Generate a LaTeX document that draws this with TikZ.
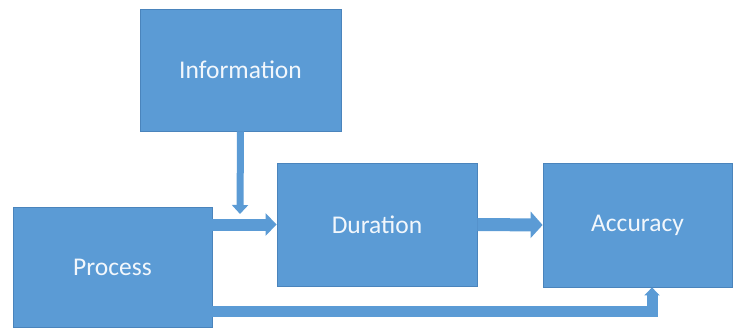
\documentclass[tikz,border=0pt]{standalone}
\usepackage{fontspec}
\setmainfont{Carlito}
\usetikzlibrary{arrows.meta}
\definecolor{boxblue}{HTML}{5B9BD5}
\definecolor{boxedge}{HTML}{4A84BC}
\definecolor{txt}{HTML}{F2F7FC}
\begin{document}
\begin{tikzpicture}[x=1pt,y=-1pt,
  blk/.style={draw=boxedge,line width=0.8pt,fill=boxblue,text=txt,font=\fontsize{25.5}{30}\selectfont,minimum width=#1,inner sep=0pt},
  conn/.style={draw=boxblue,line width=#1}]
\useasboundingbox (0,0) rectangle (734,329);
\node[blk=201pt,minimum height=122pt] (info) at (240.5,70) {Information};
\node[blk=199pt,minimum height=120pt] (proc) at (112.5,267) {Process};
\node[blk=200pt,minimum height=123pt] (dur) at (377,224.5) {Duration};
\node[blk=189pt,minimum height=124pt] (acc) at (637.5,225) {Accuracy};
\coordinate (infoend) at (240,214);
\coordinate (bend) at (652,311);
\draw[conn=7pt,-{Triangle[width=16pt,length=9pt]}] (info.south) -- (infoend);
\draw[conn=12pt,-{Triangle[width=22pt,length=11pt]}] (proc.east |- dur.west) -- (dur.west);
\draw[conn=13pt,-{Triangle[width=26pt,length=12pt]}] (dur.east) -- (acc.west);
\draw[conn=11pt,line join=miter,-{Triangle[width=15pt,length=8pt]}] (proc.east |- bend) -- (bend) -- (bend |- acc.south);
\end{tikzpicture}
\end{document}
